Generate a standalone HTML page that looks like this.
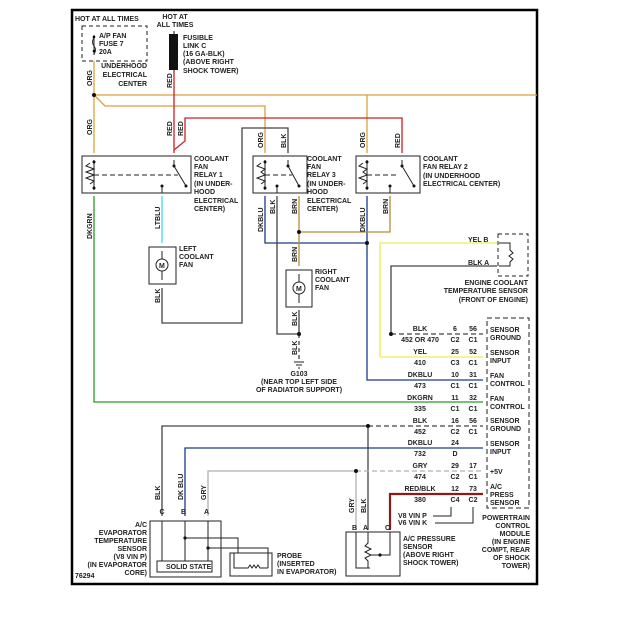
<!DOCTYPE html>
<html><head><meta charset="utf-8"><style>
html,body{margin:0;padding:0;background:#fff}
svg{display:block}
text{font-family:"Liberation Sans",sans-serif;font-size:7px;font-weight:bold;fill:#222}
.w{fill:none;stroke-width:1.3}
</style></head><body>
<svg width="630" height="624" viewBox="0 0 630 624" xmlns="http://www.w3.org/2000/svg">
<rect x="72" y="10" width="465" height="574" fill="none" stroke="#000" stroke-width="2.5"/>

<!-- top left fuse -->
<text x="75" y="21">HOT AT ALL TIMES</text>
<rect x="82" y="26" width="65" height="35" fill="none" stroke="#222" stroke-dasharray="4,3"/>
<path d="M94 35 V55" stroke="#222" fill="none"/>
<path d="M94 38 q-3 4 0 8 q3 4 0 8" stroke="#222" fill="none"/>
<circle cx="94" cy="37" r="1.3"/><circle cx="94" cy="51" r="1.3"/>
<text x="99" y="38">A/P FAN</text><text x="99" y="46">FUSE 7</text><text x="99" y="54">20A</text>
<text x="147" y="68" text-anchor="end">UNDERHOOD</text>
<text x="147" y="77" text-anchor="end">ELECTRICAL</text>
<text x="147" y="86" text-anchor="end">CENTER</text>

<!-- fusible link -->
<text x="175" y="19" text-anchor="middle">HOT AT</text>
<text x="175" y="27" text-anchor="middle">ALL TIMES</text>
<rect x="169" y="34" width="9" height="36" fill="#111"/>
<path d="M174 31 V34 M174 70 V72" stroke="#111"/>
<text x="183" y="40">FUSIBLE</text><text x="183" y="48">LINK C</text><text x="183" y="56">(16 GA-BLK)</text>
<text x="183" y="64">(ABOVE RIGHT</text><text x="183" y="73">SHOCK TOWER)</text>

<!-- wires -->
<g class="w">
<path d="M94 61 V153" stroke="#d9a040"/>
<path d="M94 95 H537" stroke="#d9a040"/>
<path d="M94 95 L105 106 H265 V153" stroke="#d9a040"/>
<path d="M367 95 V153" stroke="#d9a040"/>
<path d="M174 72 V153" stroke="#cc2020"/>
<path d="M174 150 L185 141 V118 H402 V153" stroke="#cc2020"/>
<path d="M288 153 V128 H242 V323 H162 V288" stroke="#444"/>
<path d="M94 196 V402 H483" stroke="#2a9a2a"/>
<path d="M162 196 V243" stroke="#40d8e8"/>
<path d="M265 196 V243 H367 V380 H483" stroke="#1a3a90"/>
<path d="M367 196 V243" stroke="#1a3a90"/>
<path d="M277 196 V334 H299" stroke="#444"/>
<path d="M299 196 V266" stroke="#b09030"/>
<path d="M299 232 H390 V196" stroke="#b09030"/>
<path d="M299 310 V334" stroke="#444"/>
<path d="M299 334 V360" stroke="#444" stroke-dasharray="4,3"/>
<path d="M380 357 V243 H497" stroke="#f0f070" stroke-width="1.6"/>
<path d="M380 357 H483" stroke="#f0f070" stroke-width="1.6"/>
<path d="M391 334 V266 H497" stroke="#444"/>
<path d="M391 334 H483" stroke="#444" stroke-dasharray="5,3"/>
<path d="M162 516 V426 H368" stroke="#444"/>
<path d="M368 426 H483" stroke="#444" stroke-dasharray="5,3"/>
<path d="M368 426 V530" stroke="#444"/>
<path d="M185 516 V448 H483" stroke="#1a3a90"/>
<path d="M208 516 V471 H356" stroke="#b0b0b0"/>
<path d="M356 471 H483" stroke="#b0b0b0" stroke-dasharray="5,3"/>
<path d="M356 471 V530" stroke="#b0b0b0"/>
<path d="M483 494 H390 V530" stroke="#8b1a1a" stroke-width="2.2"/>
</g>
<g fill="#111">
<circle cx="94" cy="95" r="2"/><circle cx="299" cy="232" r="2"/><circle cx="367" cy="243" r="2"/>
<circle cx="299" cy="334" r="2"/><circle cx="391" cy="334" r="2"/><circle cx="368" cy="426" r="2"/><circle cx="356" cy="471" r="2"/>
</g>

<!-- relays -->
<g stroke="#222" fill="none">
<rect x="82" y="156" width="109" height="37"/>
<rect x="253" y="156" width="54" height="37"/>
<rect x="356" y="156" width="64" height="37"/>
<path d="M94 160 V190 M90 163 l-4 3 l8 3 l-8 3 l8 3 l-8 3 l8 3 l-4 3" />
<path d="M94 175 H178" stroke-dasharray="5,3"/>
<path d="M174 160 V166 L186 186"/>
<path d="M265 160 V190 M261 163 l-4 3 l8 3 l-4 3 l4 3 l-8 3 l8 3 l-4 3"/>
<path d="M265 175 H292" stroke-dasharray="5,3"/>
<path d="M288 160 V166 L299 186"/>
<path d="M367 160 V190 M363 163 l-4 3 l8 3 l-4 3 l4 3 l-8 3 l8 3 l-4 3"/>
<path d="M367 175 H396" stroke-dasharray="5,3"/>
<path d="M402 160 V166 L414 186"/>
<path d="M162 186 V193 M277 186 V193 M390 186 V193"/>
</g>
<g fill="#111">
<circle cx="174" cy="166" r="1.5"/><circle cx="186" cy="186" r="1.5"/><circle cx="94" cy="162" r="1.5"/><circle cx="94" cy="188" r="1.5"/><circle cx="162" cy="186" r="1.5"/>
<circle cx="288" cy="166" r="1.5"/><circle cx="299" cy="186" r="1.5"/><circle cx="265" cy="162" r="1.5"/><circle cx="265" cy="188" r="1.5"/><circle cx="277" cy="186" r="1.5"/>
<circle cx="402" cy="166" r="1.5"/><circle cx="414" cy="186" r="1.5"/><circle cx="367" cy="162" r="1.5"/><circle cx="367" cy="188" r="1.5"/><circle cx="390" cy="186" r="1.5"/>
</g>
<text x="194" y="161">COOLANT</text><text x="194" y="169">FAN</text><text x="194" y="177">RELAY 1</text><text x="194" y="186">(IN UNDER-</text><text x="194" y="194">HOOD</text><text x="194" y="203">ELECTRICAL</text><text x="194" y="211">CENTER)</text>
<text x="307" y="161">COOLANT</text><text x="307" y="169">FAN</text><text x="307" y="177">RELAY 3</text><text x="307" y="186">(IN UNDER-</text><text x="307" y="194">HOOD</text><text x="307" y="203">ELECTRICAL</text><text x="307" y="211">CENTER)</text>
<text x="423" y="161">COOLANT</text><text x="423" y="169">FAN RELAY 2</text><text x="423" y="178">(IN UNDERHOOD</text><text x="423" y="186">ELECTRICAL CENTER)</text>

<!-- fans -->
<g stroke="#222" fill="none">
<rect x="149" y="247" width="27" height="37"/>
<circle cx="162" cy="265" r="6"/><path d="M162 251 V259 M162 271 V280"/>
<rect x="286" y="270" width="26" height="37"/>
<circle cx="299" cy="288" r="6"/><path d="M299 274 V282 M299 294 V303"/>
<path d="M294 362 H304 M296 365 H302 M298 368 H300"/>
</g>
<text x="159" y="268">M</text><text x="296" y="291">M</text>
<text x="179" y="251">LEFT</text><text x="179" y="259">COOLANT</text><text x="179" y="267">FAN</text>
<text x="315" y="274">RIGHT</text><text x="315" y="282">COOLANT</text><text x="315" y="290">FAN</text>
<text x="299" y="376" text-anchor="middle">G103</text>
<text x="299" y="384" text-anchor="middle">(NEAR TOP LEFT SIDE</text>
<text x="299" y="392" text-anchor="middle">OF RADIATOR SUPPORT)</text>

<!-- ECT sensor -->
<rect x="498" y="234" width="30" height="42" fill="none" stroke="#222" stroke-dasharray="4,3"/>
<path d="M499 243 H510 V250 l3 3 l-4 3 l4 3 l-3 3 V266 H499" fill="none" stroke="#222"/>
<text x="468" y="242">YEL  B</text><text x="468" y="265">BLK  A</text>
<text x="528" y="285" text-anchor="end">ENGINE COOLANT</text>
<text x="528" y="293" text-anchor="end">TEMPERATURE SENSOR</text>
<text x="528" y="302" text-anchor="end">(FRONT OF ENGINE)</text>

<!-- PCM -->
<rect x="487" y="318" width="42" height="190" fill="none" stroke="#222" stroke-dasharray="5,3"/>
<g font-size="7">
<text x="490" y="332">SENSOR</text><text x="490" y="340">GROUND</text>
<text x="490" y="355">SENSOR</text><text x="490" y="363">INPUT</text>
<text x="490" y="378">FAN</text><text x="490" y="386">CONTROL</text>
<text x="490" y="401">FAN</text><text x="490" y="409">CONTROL</text>
<text x="490" y="423">SENSOR</text><text x="490" y="431">GROUND</text>
<text x="490" y="446">SENSOR</text><text x="490" y="454">INPUT</text>
<text x="490" y="474">+5V</text>
<text x="490" y="489">A/C</text><text x="490" y="497">PRESS</text><text x="490" y="505">SENSOR</text>
</g>
<g text-anchor="middle">
<text x="420" y="331">BLK</text><text x="420" y="342">452 OR 470</text><text x="455" y="331">6</text><text x="455" y="342">C2</text><text x="473" y="331">56</text><text x="473" y="342">C1</text>
<text x="420" y="354">YEL</text><text x="420" y="365">410</text><text x="455" y="354">25</text><text x="455" y="365">C3</text><text x="473" y="354">52</text><text x="473" y="365">C1</text>
<text x="420" y="377">DKBLU</text><text x="420" y="388">473</text><text x="455" y="377">10</text><text x="455" y="388">C1</text><text x="473" y="377">31</text><text x="473" y="388">C1</text>
<text x="420" y="400">DKGRN</text><text x="420" y="411">335</text><text x="455" y="400">11</text><text x="455" y="411">C1</text><text x="473" y="400">32</text><text x="473" y="411">C1</text>
<text x="420" y="423">BLK</text><text x="420" y="434">452</text><text x="455" y="423">16</text><text x="455" y="434">C2</text><text x="473" y="423">56</text><text x="473" y="434">C1</text>
<text x="420" y="445">DKBLU</text><text x="420" y="456">732</text><text x="455" y="445">24</text><text x="455" y="456">D</text>
<text x="420" y="468">GRY</text><text x="420" y="479">474</text><text x="455" y="468">29</text><text x="455" y="479">C2</text><text x="473" y="468">17</text><text x="473" y="479">C1</text>
<text x="420" y="491">RED/BLK</text><text x="420" y="502">380</text><text x="455" y="491">12</text><text x="455" y="502">C4</text><text x="473" y="491">73</text><text x="473" y="502">C2</text>
</g>
<path d="M433 516 H451 V507 M435 523 H473 V507" fill="none" stroke="#222"/>
<text x="398" y="518">V8 VIN P</text><text x="398" y="525">V6 VIN K</text>
<text x="530" y="520" text-anchor="end">POWERTRAIN</text><text x="530" y="528" text-anchor="end">CONTROL</text><text x="530" y="536" text-anchor="end">MODULE</text>
<text x="530" y="544" text-anchor="end">(IN ENGINE</text><text x="530" y="552" text-anchor="end">COMPT, REAR</text><text x="530" y="560" text-anchor="end">OF SHOCK</text><text x="530" y="568" text-anchor="end">TOWER)</text>

<!-- evaporator sensor -->
<g stroke="#222" fill="none">
<rect x="150" y="521" width="71" height="56"/>
<rect x="157" y="561" width="55" height="11"/>
<path d="M162 521 V561 M185 521 V561 M208 521 V561 M185 538 H238 V553 M208 548 H268 V568"/>
<rect x="230" y="553" width="42" height="23"/>
<path d="M234 553 V568 H248 l2 -3 l2 3 l2 -3 l2 3 l2 -3 l2 3 H268"/>
<rect x="346" y="532" width="54" height="44"/>
<path d="M356 532 V568 H370 M368 532 V543 l-3 3 l6 3 l-6 3 l6 3 l-6 3 l3 3 V568 M390 532 V555 H371"/>
</g>
<circle cx="185" cy="538" r="1.6" fill="#111"/><circle cx="208" cy="548" r="1.6" fill="#111"/><circle cx="380" cy="555" r="1.6" fill="#111"/>
<text x="166" y="569">SOLID STATE</text>
<text x="162" y="514" text-anchor="middle">C</text><text x="181" y="514">B</text><text x="204" y="514">A</text>
<g text-anchor="end">
<text x="147" y="527">A/C</text><text x="147" y="535">EVAPORATOR</text><text x="147" y="543">TEMPERATURE</text><text x="147" y="551">SENSOR</text>
<text x="147" y="559">(V8 VIN P)</text><text x="147" y="567">(IN EVAPORATOR</text><text x="147" y="575">CORE)</text>
</g>
<text x="75" y="578">76294</text>
<text x="277" y="558">PROBE</text><text x="277" y="566">(INSERTED</text><text x="277" y="574">IN EVAPORATOR)</text>
<text x="352" y="530">B</text><text x="363" y="530">A</text><text x="385" y="530">C</text>
<text x="403" y="541">A/C PRESSURE</text><text x="403" y="549">SENSOR</text><text x="403" y="557">(ABOVE RIGHT</text><text x="403" y="565">SHOCK TOWER)</text>

<!-- vertical wire labels -->
<g>
<text transform="translate(92,86) rotate(-90)">ORG</text>
<text transform="translate(92,135) rotate(-90)">ORG</text>
<text transform="translate(172,88) rotate(-90)">RED</text>
<text transform="translate(172,136) rotate(-90)">RED</text>
<text transform="translate(183,136) rotate(-90)">RED</text>
<text transform="translate(263,148) rotate(-90)">ORG</text>
<text transform="translate(286,148) rotate(-90)">BLK</text>
<text transform="translate(365,148) rotate(-90)">ORG</text>
<text transform="translate(400,148) rotate(-90)">RED</text>
<text transform="translate(92,239) rotate(-90)">DKGRN</text>
<text transform="translate(160,229) rotate(-90)">LTBLU</text>
<text transform="translate(160,303) rotate(-90)">BLK</text>
<text transform="translate(263,232) rotate(-90)">DKBLU</text>
<text transform="translate(275,214) rotate(-90)">BLK</text>
<text transform="translate(297,214) rotate(-90)">BRN</text>
<text transform="translate(365,232) rotate(-90)">DKBLU</text>
<text transform="translate(388,214) rotate(-90)">BRN</text>
<text transform="translate(297,262) rotate(-90)">BRN</text>
<text transform="translate(297,326) rotate(-90)">BLK</text>
<text transform="translate(297,355) rotate(-90)">BLK</text>
<text transform="translate(160,500) rotate(-90)">BLK</text>
<text transform="translate(183,500) rotate(-90)">DK BLU</text>
<text transform="translate(206,500) rotate(-90)">GRY</text>
<text transform="translate(354,513) rotate(-90)">GRY</text>
<text transform="translate(366,513) rotate(-90)">BLK</text>
</g>
</svg>
</body></html>
